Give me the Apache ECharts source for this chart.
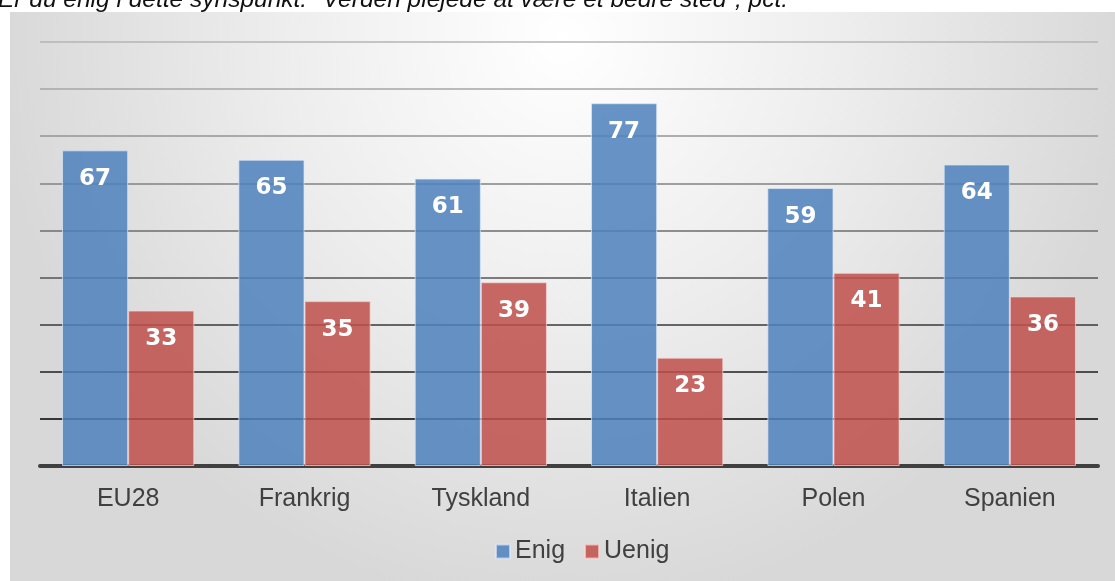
<!DOCTYPE html>
<html>
<head>
<meta charset="utf-8">
<script src="https://cdn.jsdelivr.net/npm/echarts@6/dist/echarts.min.js"></script>
<style>
    html, body { margin: 0; padding: 0; background: #fff; }
    #main { width: 1115px; height: 581px; }
</style>
</head>
<body>
<div id="main"></div>
<script>
var titleText = 'Er du enig i dette synspunkt: "Verden plejede at være et bedre sted", pct.';
var lande = ['EU28', 'Frankrig', 'Tyskland', 'Italien', 'Polen', 'Spanien'];
var enig = [67, 65, 61, 77, 59, 64];
var uenig = [33, 35, 39, 23, 41, 36];

~function () {
    var myChart = echarts.init(document.getElementById('main'));
    var option = {
        backgroundColor: '#fff',
        animation: false,
        graphic: [
            {
                type: 'rect',
                z: -10,
                shape: {x: 10, y: 12, width: 1105, height: 569},
                style: {
                    fill: new echarts.graphic.RadialGradient(0.5, 0.05, 1.0, [
                        {offset: 0, color: '#ffffff'},
                        {offset: 0.5, color: '#ededed'},
                        {offset: 1, color: '#d8d8d8'}
                    ])
                }
            },
            {
                type: 'text',
                x: -2,
                y: 0,
                style: {
                    text: titleText,
                    font: 'italic 24.5px "Liberation Sans"',
                    fill: '#111',
                    verticalAlign: 'middle'
                }
            }
        ],
        grid: {
            left: 40,
            right: 17,
            top: 42,
            bottom: 115
        },
        legend: {
            data: ['Enig', 'Uenig'],
            bottom: 12,
            left: 490,
            icon: 'rect',
            itemWidth: 14,
            itemHeight: 14,
            itemGap: 19,
            textStyle: {
                fontFamily: 'Liberation Sans',
                fontSize: 25,
                color: '#404040',
                padding: [0, 0, 0, 0]
            }
        },
        xAxis: [
            {
                type: 'category',
                data: lande,
                axisTick: {show: false},
                axisLine: {lineStyle: {color: '#404040', width: 4}},
                axisLabel: {
                    margin: 21,
                    fontFamily: 'Liberation Sans',
                    fontSize: 25,
                    color: '#404040'
                }
            }
        ],
        yAxis: [
            {
                type: 'value',
                min: 0,
                max: 90,
                interval: 10,
                axisLabel: {show: false},
                axisLine: {show: false},
                axisTick: {show: false},
                splitLine: {
                    lineStyle: {
                        width: 1.6,
                        color: ['#000', '#000', '#1e1e1e', '#383838', '#555',
                                '#6c6c6c', '#828282', '#959595', '#a6a6a6', '#b4b4b4']
                    }
                }
            }
        ],
        series: [
            {
                name: 'Enig',
                type: 'bar',
                data: enig,
                barGap: '0%',
                barCategoryGap: '25%',
                itemStyle: {
                    color: 'rgba(79,129,189,0.86)',
                    borderColor: 'rgba(220,232,248,0.7)',
                    borderWidth: 1
                },
                label: {
                    show: true,
                    position: 'insideTop',
                    distance: 17,
                    color: '#fff',
                    fontFamily: 'DejaVu Sans',
                    fontWeight: 'bold',
                    fontSize: 23
                }
            },
            {
                name: 'Uenig',
                type: 'bar',
                data: uenig,
                barGap: '0%',
                barCategoryGap: '25%',
                itemStyle: {
                    color: 'rgba(192,80,77,0.86)',
                    borderColor: 'rgba(250,215,215,0.7)',
                    borderWidth: 1
                },
                label: {
                    show: true,
                    position: 'insideTop',
                    distance: 17,
                    color: '#fff',
                    fontFamily: 'DejaVu Sans',
                    fontWeight: 'bold',
                    fontSize: 23
                }
            }
        ]
    };
    myChart.setOption(option);
}();
</script>
</body>
</html>
